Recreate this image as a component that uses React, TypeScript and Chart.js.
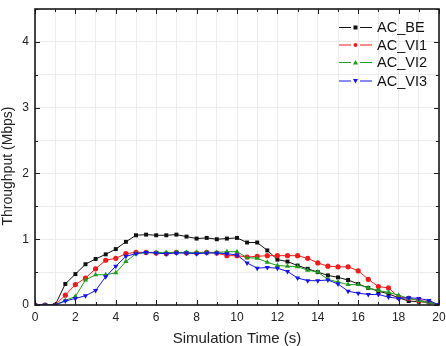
import React, { useEffect, useRef } from 'react';
import { Chart, registerables } from 'chart.js';

Chart.register(...registerables);

const times = [0, 0.5, 1, 1.5, 2, 2.5, 3, 3.5, 4, 4.5, 5, 5.5, 6, 6.5, 7, 7.5, 8, 8.5, 9, 9.5, 10,
  10.5, 11, 11.5, 12, 12.5, 13, 13.5, 14, 14.5, 15, 15.5, 16, 16.5, 17, 17.5, 18, 18.5, 19, 19.5, 20];

const acBE = [0, 0, 0, 0.32, 0.47, 0.62, 0.70, 0.77, 0.85, 0.96, 1.06, 1.07, 1.06, 1.06, 1.07, 1.04, 1.01, 1.02, 1.00, 1.01, 1.02,
  0.95, 0.95, 0.83, 0.69, 0.66, 0.60, 0.55, 0.50, 0.45, 0.42, 0.38, 0.32, 0.26, 0.21, 0.17, 0.11, 0.06, 0.05, 0.04, 0];
const acVI1 = [0, 0, 0, 0.15, 0.31, 0.41, 0.55, 0.68, 0.71, 0.78, 0.80, 0.80, 0.79, 0.78, 0.80, 0.79, 0.79, 0.80, 0.79, 0.75, 0.75,
  0.73, 0.74, 0.75, 0.75, 0.75, 0.75, 0.71, 0.64, 0.59, 0.58, 0.58, 0.52, 0.39, 0.28, 0.26, 0.12, 0.10, 0.07, 0.05, 0];
const acVI2 = [0, 0, 0, 0.07, 0.13, 0.38, 0.46, 0.46, 0.49, 0.66, 0.78, 0.80, 0.80, 0.80, 0.80, 0.80, 0.80, 0.80, 0.80, 0.81, 0.81,
  0.72, 0.71, 0.65, 0.60, 0.59, 0.58, 0.53, 0.50, 0.39, 0.35, 0.31, 0.31, 0.26, 0.22, 0.19, 0.15, 0.10, 0.07, 0.04, 0];
const acVI3 = [0, 0, 0, 0.06, 0.10, 0.14, 0.22, 0.43, 0.59, 0.74, 0.78, 0.80, 0.79, 0.78, 0.79, 0.79, 0.78, 0.79, 0.79, 0.78, 0.76,
  0.64, 0.56, 0.57, 0.56, 0.51, 0.41, 0.37, 0.37, 0.38, 0.32, 0.21, 0.18, 0.16, 0.16, 0.12, 0.10, 0.11, 0.10, 0.07, 0];

const seriesNames = ['AC_BE', 'AC_VI1', 'AC_VI2', 'AC_VI3'];
const seriesColors = ['#111111', '#ee1c1c', '#1f9a1f', '#1515e6'];
const seriesMarkers = ['rect', 'circle', 'triangle', 'triangle'];
const markerRotation = [0, 0, 0, 180];
const markerRadius = [2.8, 2.6, 3, 3];

const xTickLabels = ['0', '2', '4', '6', '8', '10', '12', '14', '16', '18', '20'];
const yTickLabels = ['0', '1', '2', '3', '4'];
const xTitle = 'Simulation Time (s)';
const yTitle = 'Throughput (Mbps)';

const FONT = '"Liberation Sans", Arial, sans-serif';

const framePlugin = {
  id: 'frameTicks',
  afterDatasetsDraw(chart: any) {
    const { ctx, chartArea: a, scales } = chart;
    const xs = scales.x;
    const ys = scales.y;
    ctx.save();
    ctx.strokeStyle = '#1a1a1a';
    ctx.lineWidth = 1;
    for (let v = 0; v <= 20; v += 1) {
      const px = Math.round(xs.getPixelForValue(v)) + 0.5;
      const major = xTickLabels.includes(String(v));
      const len = major ? 5 : 3;
      ctx.beginPath();
      ctx.moveTo(px, a.bottom);
      ctx.lineTo(px, a.bottom - len);
      ctx.moveTo(px, a.top);
      ctx.lineTo(px, a.top + len);
      ctx.stroke();
    }
    for (let v = 0; v <= 4.5; v += 0.5) {
      const py = Math.round(ys.getPixelForValue(v)) + 0.5;
      const major = yTickLabels.includes(String(v));
      const len = major ? 5 : 3;
      ctx.beginPath();
      ctx.moveTo(a.left, py);
      ctx.lineTo(a.left + len, py);
      ctx.moveTo(a.right, py);
      ctx.lineTo(a.right - len, py);
      ctx.stroke();
    }
    ctx.lineWidth = 1.6;
    ctx.strokeStyle = '#1a1a1a';
    ctx.strokeRect(a.left, a.top, a.right - a.left, a.bottom - a.top);
    ctx.restore();
  },
  afterDraw(chart: any) {
    const { ctx } = chart;
    ctx.save();
    // y axis title
    ctx.save();
    ctx.translate(8, 166);
    ctx.rotate(-Math.PI / 2);
    ctx.font = `14px ${FONT}`;
    ctx.fillStyle = '#222';
    ctx.textAlign = 'center';
    ctx.textBaseline = 'middle';
    ctx.fillText(yTitle, 0, 0);
    ctx.restore();

    const x0 = 339;
    const x1 = 372;
    const rowY = [27, 44.5, 62, 80.5];
    ctx.font = `14.5px ${FONT}`;
    ctx.textBaseline = 'middle';
    ctx.textAlign = 'left';
    seriesNames.forEach((name, i) => {
      const y = rowY[i];
      const c = seriesColors[i];
      ctx.strokeStyle = c;
      ctx.fillStyle = c;
      ctx.lineWidth = 1;
      ctx.beginPath();
      ctx.moveTo(x0, y + 0.5);
      ctx.lineTo(x0 + 12, y + 0.5);
      ctx.moveTo(x1 - 12, y + 0.5);
      ctx.lineTo(x1, y + 0.5);
      ctx.stroke();
      const cx = (x0 + x1) / 2;
      const r = 2;
      ctx.beginPath();
      if (seriesMarkers[i] === 'rect') {
        ctx.rect(cx - r, y - r + 0.5, 2 * r, 2 * r);
      } else if (seriesMarkers[i] === 'circle') {
        ctx.arc(cx, y + 0.5, r, 0, Math.PI * 2);
      } else if (markerRotation[i] === 0) {
        ctx.moveTo(cx, y - 2);
        ctx.lineTo(cx + 2.5, y + 2.5);
        ctx.lineTo(cx - 2.5, y + 2.5);
        ctx.closePath();
      } else {
        ctx.moveTo(cx, y + 3);
        ctx.lineTo(cx + 2.5, y - 1.5);
        ctx.lineTo(cx - 2.5, y - 1.5);
        ctx.closePath();
      }
      ctx.fill();
      ctx.fillStyle = '#111';
      ctx.fillText(name, 377, y + 1);
    });
    ctx.restore();
  },
};

export default function App() {
  const ref = useRef<HTMLCanvasElement | null>(null);

  useEffect(() => {
    document.body.style.margin = '0';
    const all = [acBE, acVI1, acVI2, acVI3];
    const datasets = all.map((vals, i) => ({
      label: seriesNames[i],
      data: times.map((t, k) => ({ x: t, y: vals[k] })),
      borderColor: seriesColors[i],
      backgroundColor: seriesColors[i],
      borderWidth: 1,
      pointStyle: seriesMarkers[i],
      rotation: markerRotation[i],
      pointRadius: markerRadius[i],
      pointBorderWidth: 0,
      tension: 0,
      order: 4 - i,
    }));
    const chart = new Chart(ref.current as HTMLCanvasElement, {
      type: 'line',
      data: { datasets },
      options: {
        animation: false,
        responsive: false,
        maintainAspectRatio: false,
        layout: { padding: { left: 0, right: 7, top: 9, bottom: 0 } },
        plugins: {
          legend: { display: false },
          tooltip: { enabled: false },
        },
        scales: {
          x: {
            type: 'linear',
            min: 0,
            max: 20,
            grid: { color: '#ececec', drawTicks: false, lineWidth: 1 },
            border: { display: false },
            ticks: {
              stepSize: 1,
              autoSkip: false,
              maxRotation: 0,
              padding: 5,
              color: '#222',
              font: { family: FONT, size: 12 },
              callback: (v: any) => (xTickLabels.includes(String(v)) ? String(v) : ''),
            },
            title: {
              display: true,
              text: xTitle,
              color: '#222',
              font: { family: FONT, size: 15 },
              padding: { top: 0, bottom: -2 },
            },
            afterFit: (s: any) => { s.height = 41; s.paddingLeft = 0; s.paddingRight = 0; },
          },
          y: {
            type: 'linear',
            min: 0,
            max: 4.5,
            grid: { color: '#ececec', drawTicks: false, lineWidth: 1 },
            border: { display: false },
            ticks: {
              stepSize: 0.5,
              autoSkip: false,
              padding: 6,
              color: '#222',
              font: { family: FONT, size: 12 },
              callback: (v: any) => (yTickLabels.includes(String(v)) ? String(v) : ''),
            },
            title: { display: false },
            afterFit: (s: any) => { s.width = 35; s.paddingTop = 0; s.paddingBottom = 0; },
          },
        },
      },
      plugins: [framePlugin],
    });
    return () => chart.destroy();
  }, []);

  return (
    <div style={{ position: 'absolute', left: 0, top: 0, width: 446, height: 346, background: '#fff' }}>
      <canvas ref={ref} width={446} height={346} style={{ width: 446, height: 346 }} />
    </div>
  );
}
